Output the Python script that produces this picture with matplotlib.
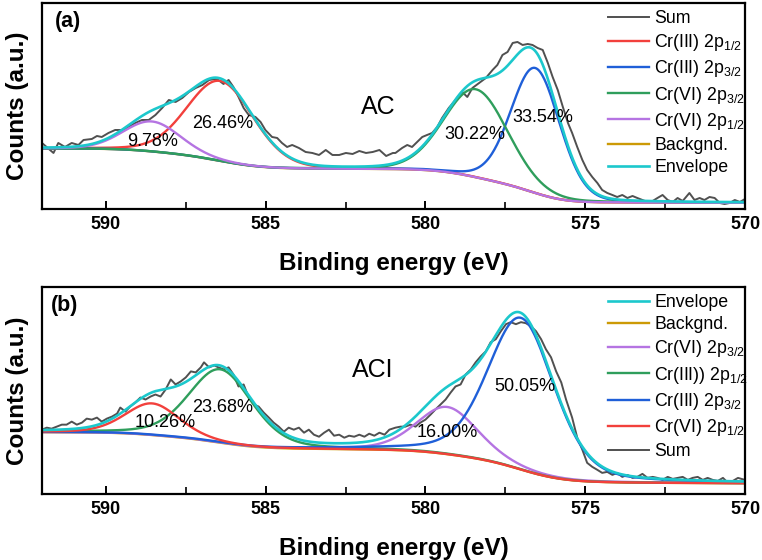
import numpy as np
import matplotlib.pyplot as plt
from matplotlib.ticker import MultipleLocator

plt.rcParams['font.family'] = ['Liberation Sans', 'DejaVu Sans']
plt.rcParams['mathtext.fontset'] = 'custom'
plt.rcParams['mathtext.rm'] = 'Liberation Sans'

# ---------------- panel (a): AC ----------------
# measured spectrum ("Sum"), read off the figure
sum_a_ev = [592.0, 591.64, 591.49, 591.28, 591.07, 590.86, 590.70, 590.44, 590.28, 590.13,
            589.92, 589.71, 589.50, 589.29, 589.08, 588.87, 588.66, 588.45, 588.24, 588.03,
            587.82, 587.61, 587.40, 587.19, 586.98, 586.77, 586.56, 586.48, 586.32, 586.16,
            586.01, 585.85, 585.69, 585.53, 585.32, 585.16, 585.01, 584.80, 584.64, 584.49,
            584.33, 584.17, 583.96, 583.75, 583.54, 583.33, 583.12, 582.91, 582.70, 582.49,
            582.28, 582.07, 581.86, 581.65, 581.44, 581.23, 581.02, 580.94, 580.73, 580.57,
            580.42, 580.26, 580.10, 579.95, 579.79, 579.63, 579.48, 579.27, 579.06, 578.85,
            578.69, 578.53, 578.32, 578.11, 577.90, 577.75, 577.59, 577.43, 577.27, 577.12,
            576.96, 576.80, 576.65, 576.49, 576.33, 576.17, 576.02, 575.86, 575.70, 575.54,
            575.41, 575.25, 575.09, 574.94, 574.78, 574.62, 574.47, 574.31, 574.15, 574.00,
            573.84, 573.68, 573.52, 573.37, 573.21, 573.05, 572.89, 572.74, 572.58, 572.42,
            572.26, 572.11, 571.95, 571.74, 571.58, 571.42, 571.27, 571.11, 570.95, 570.79,
            570.64, 570.48, 570.32, 570.16, 570.0]
sum_a_counts = [66, 56, 66, 62, 66, 64, 69, 70, 73, 72,
                76, 79, 79, 82, 86, 89, 89, 94, 101, 109,
                107, 111, 117, 121, 124, 129, 130, 129, 125, 129,
                122, 112, 101, 94, 92, 87, 79, 72, 71, 66,
                62, 64, 61, 57, 56, 54, 59, 54, 54, 56,
                55, 58, 56, 57, 59, 53, 56, 56, 61, 64,
                62, 67, 72, 74, 76, 82, 91, 101, 109, 117,
                112, 121, 126, 131, 139, 144, 154, 157, 166, 167,
                164, 165, 164, 161, 159, 146, 132, 119, 102, 86,
                76, 62, 49, 39, 32, 26, 19, 16, 14, 12,
                14, 11, 13, 11, 9, 7, 8, 11, 14, 9,
                7, 11, 8, 16, 9, 11, 9, 12, 11, 6,
                5, 6, 9, 7, 10]
# fitted components: centre (eV), height above background, fwhm (eV)
peaks_a_names = ['Cr(III) 2p$_{\\mathregular{1/2}}$', 'Cr(III) 2p$_{\\mathregular{3/2}}$',
                 'Cr(VI) 2p$_{\\mathregular{3/2}}$', 'Cr(VI) 2p$_{\\mathregular{1/2}}$']
peaks_a_colors = ['#f2403c', '#1f5fd8', '#2f9e5c', '#b574e2']
peaks_a_center = [586.42, 576.56, 578.42, 588.56]
peaks_a_height = [80, 125, 88, 30]
peaks_a_fwhm = [2.45, 1.8, 2.35, 2.1]
peaks_a_pct = ['26.46%', '33.54%', '30.22%', '9.78%']
bg_a = [6.3, 60.5]   # background level at 570 eV / 592 eV

# ---------------- panel (b): ACI ----------------
sum_b_ev = [592.0, 591.85, 591.70, 591.54, 591.38, 591.23, 591.07, 590.91, 590.75, 590.60,
            590.44, 590.28, 590.13, 589.97, 589.81, 589.65, 589.55, 589.39, 589.24, 589.08,
            588.92, 588.76, 588.60, 588.45, 588.29, 588.13, 587.97, 587.82, 587.66, 587.50,
            587.34, 587.19, 587.03, 586.93, 586.77, 586.61, 586.48, 586.32, 586.16, 586.01,
            585.85, 585.69, 585.53, 585.37, 585.22, 585.06, 584.90, 584.75, 584.59, 584.43,
            584.28, 584.12, 583.96, 583.80, 583.65, 583.49, 583.33, 583.17, 583.02, 582.86,
            582.70, 582.54, 582.39, 582.23, 582.07, 581.91, 581.76, 581.60, 581.44, 581.28,
            581.13, 580.94, 580.78, 580.63, 580.47, 580.31, 580.16, 580.00, 579.84, 579.69,
            579.53, 579.37, 579.21, 579.06, 578.90, 578.74, 578.58, 578.43, 578.27, 578.11,
            577.96, 577.80, 577.64, 577.48, 577.33, 577.17, 577.01, 576.86, 576.70, 576.54,
            576.38, 576.23, 576.07, 575.91, 575.75, 575.60, 575.41, 575.25, 575.09, 574.94,
            574.78, 574.62, 574.47, 574.31, 574.15, 574.00, 573.84, 573.68, 573.52, 573.37,
            573.21, 573.05, 572.89, 572.74, 572.58, 572.42, 572.26, 572.11, 571.95, 571.79,
            571.64, 571.48, 571.32, 571.17, 571.01, 570.85, 570.69, 570.53, 570.38, 570.22,
            570.0]
sum_b_counts = [64, 66, 65, 67, 69, 69, 72, 69, 71, 75,
                74, 76, 72, 75, 77, 80, 86, 82, 87, 91,
                96, 94, 97, 99, 97, 104, 114, 109, 112, 116,
                122, 121, 126, 131, 126, 128, 126, 124, 126, 119,
                107, 109, 96, 89, 87, 81, 76, 71, 67, 62,
                66, 64, 66, 61, 64, 59, 57, 61, 64, 58,
                59, 56, 58, 57, 59, 57, 60, 58, 61, 59,
                64, 66, 67, 67, 69, 67, 71, 74, 79, 84,
                89, 94, 101, 107, 109, 119, 124, 131, 137, 142,
                151, 154, 162, 169, 171, 169, 171, 170, 167, 162,
                154, 144, 136, 122, 111, 94, 76, 56, 44, 31,
                27, 24, 21, 22, 19, 21, 17, 19, 16, 17,
                20, 16, 17, 16, 14, 17, 15, 16, 17, 14,
                16, 17, 14, 16, 14, 13, 16, 11, 13, 16,
                14]
peaks_b_names = ['Cr(VI) 2p$_{\\mathregular{3/2}}$', 'Cr(III)) 2p$_{\\mathregular{1/2}}$',
                 'Cr(III) 2p$_{\\mathregular{3/2}}$', 'Cr(VI) 2p$_{\\mathregular{1/2}}$']
peaks_b_colors = ['#b574e2', '#2f9e5c', '#1f5fd8', '#f2403c']
peaks_b_center = [579.32, 586.42, 577.01, 588.55]
peaks_b_height = [47, 73, 151, 31.5]
peaks_b_fwhm = [2.26, 2.35, 2.47, 2.0]
peaks_b_pct = ['16.00%', '23.68%', '50.05%', '10.26%']
bg_b = [10.7, 61.5]

SUM_COLOR = '#505050'
BG_COLOR = '#cc9a06'
ENV_COLOR = '#1cc8cc'


def pseudo_voigt(e, c, h, w, m=0.25):
    """Gaussian-Lorentzian sum, as used by the XPS fit."""
    x = (e - c) / w
    return h * ((1 - m) * np.exp(-4 * np.log(2) * x ** 2) + m / (1 + 4 * x ** 2))


def shirley(e, peaks, low, high):
    """Shirley type step: grows with the peak area on the low binding energy side."""
    total = np.sum(peaks, axis=0)
    cum = np.concatenate([[0], np.cumsum((total[1:] + total[:-1]) / 2 * np.diff(e))])
    return low + (high - low) * cum / cum[-1]


def draw_panel(ax, sum_ev, sum_counts, names, colors, centers, heights, fwhms, bg, m):
    e = np.linspace(570, 592, 1101)
    peaks = [pseudo_voigt(e, c, h, w, m) for c, h, w in zip(centers, heights, fwhms)]
    back = shirley(e, peaks, bg[0], bg[1])

    handles = {}
    handles['Sum'], = ax.plot(sum_ev, sum_counts, color=SUM_COLOR, lw=1.4)
    handles['Backgnd.'], = ax.plot(e, back, color=BG_COLOR, lw=1.7)
    for name, col, p in zip(names, colors, peaks):
        handles[name], = ax.plot(e, back + p, color=col, lw=1.7)
    handles['Envelope'], = ax.plot(e, back + np.sum(peaks, axis=0), color=ENV_COLOR, lw=1.9)

    ax.set_xlim(592, 570)
    ax.set_ylim(0, 206)
    ax.set_yticks([])
    ax.xaxis.set_major_locator(MultipleLocator(5))
    ax.xaxis.set_minor_locator(MultipleLocator(2.5))
    ax.tick_params(axis='x', which='major', direction='in', length=6, width=1.4,
                   labelsize=13, pad=5)
    ax.tick_params(axis='x', which='minor', direction='in', length=5, width=1.2)
    for lab in ax.get_xticklabels():
        lab.set_fontweight('bold')
    for sp in ax.spines.values():
        sp.set_linewidth(1.6)
    ax.set_xlabel('Binding energy (eV)', fontsize=17.5, fontweight='bold', labelpad=14)
    ax.set_ylabel('Counts (a.u.)', fontsize=17.5, fontweight='bold', labelpad=9)
    return handles


fig = plt.figure(figsize=(7.62, 5.6), dpi=100)
ax_a = fig.add_axes([0.0551, 0.6268, 0.9226, 0.3679])
ax_b = fig.add_axes([0.0551, 0.1179, 0.9226, 0.3696])

h_a = draw_panel(ax_a, sum_a_ev, sum_a_counts, peaks_a_names, peaks_a_colors,
                 peaks_a_center, peaks_a_height, peaks_a_fwhm, bg_a, 0.12)
h_b = draw_panel(ax_b, sum_b_ev, sum_b_counts, peaks_b_names, peaks_b_colors,
                 peaks_b_center, peaks_b_height, peaks_b_fwhm, bg_b, 0.3)

order_a = ['Sum'] + peaks_a_names + ['Backgnd.', 'Envelope']
order_b = ['Envelope', 'Backgnd.'] + peaks_b_names + ['Sum']
for ax, h, order in [(ax_a, h_a, order_a), (ax_b, h_b, order_b)]:
    ax.legend([h[k] for k in order], order, loc='upper left', bbox_to_anchor=(0.795, 1.0),
              frameon=False, fontsize=12.8, handlelength=2.3, handletextpad=0.3,
              borderaxespad=0, borderpad=0.4, labelspacing=0.29)

# percentages of each component
pct_pos_a = [(586.34, 85), (576.32, 91), (578.47, 74), (588.53, 67)]
pct_pos_b = [(579.33, 61), (586.34, 86), (576.90, 107), (588.15, 71)]
for ax, pcts, pos in [(ax_a, peaks_a_pct, pct_pos_a), (ax_b, peaks_b_pct, pct_pos_b)]:
    for t, (x, y) in zip(pcts, pos):
        ax.text(x, y, t, fontsize=13, ha='center', va='center')

ax_a.text(581.49, 102, 'AC', fontsize=18, ha='center', va='center')
ax_b.text(581.64, 123, 'ACI', fontsize=18, ha='center', va='center')
ax_a.text(0.018, 0.91, '(a)', transform=ax_a.transAxes, fontsize=15.5, fontweight='bold', va='center')
ax_b.text(0.012, 0.91, '(b)', transform=ax_b.transAxes, fontsize=15.5, fontweight='bold', va='center')

fig.savefig('out.png', dpi=100)
